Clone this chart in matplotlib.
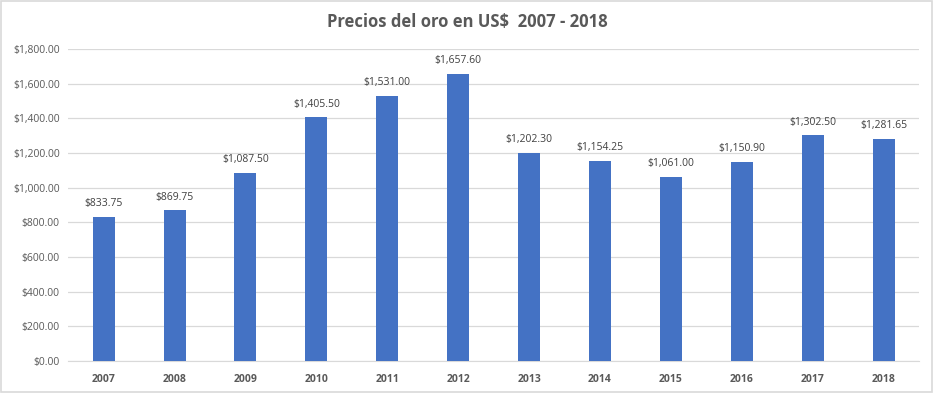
import matplotlib.pyplot as plt
from matplotlib.ticker import FuncFormatter

# datos
anios = ['2007', '2008', '2009', '2010', '2011', '2012',
         '2013', '2014', '2015', '2016', '2017', '2018']
precios = [833.75, 869.75, 1087.50, 1405.50, 1531.00, 1657.60,
           1202.30, 1154.25, 1061.00, 1150.90, 1302.50, 1281.65]

gris = '#595959'
plt.rcParams['font.family'] = ['Open Sans', 'DejaVu Sans']

fig = plt.figure(figsize=(9.34, 3.93), dpi=100)
ax = fig.add_axes([0.073, 0.0814, 0.911, 0.7936])

x = range(len(anios))
barras = ax.bar(x, precios, width=0.31, color='#4472C4', zorder=3)

# etiquetas sobre las barras
for xi, v in zip(x, precios):
    ax.text(xi, v + 45, '${:,.2f}'.format(v), ha='center', va='bottom',
            fontsize=7.5, color='#404040')

ax.set_xlim(-0.5, len(anios) - 0.5)
ax.set_ylim(0, 1800)
ax.set_yticks(range(0, 1801, 200))
ax.yaxis.set_major_formatter(FuncFormatter(lambda v, p: '${:,.2f}'.format(v)))
ax.set_xticks(list(x))
ax.set_xticklabels(anios, fontweight='bold')
ax.grid(axis='y', color='#D9D9D9', linewidth=0.9, zorder=0)
for s in ['top', 'right', 'left']:
    ax.spines[s].set_visible(False)
ax.spines['bottom'].set_color('#D9D9D9')
ax.tick_params(axis='both', length=0, labelsize=7.5, colors=gris, pad=6)
ax.tick_params(axis='x', pad=9)

fig.text(0.5, 0.945, 'Precios del oro en US$  2007 - 2018', ha='center',
         va='center', fontsize=12, fontweight='bold', color=gris)

# borde del grafico
fig.patches.append(plt.Rectangle((0.001, 0.002), 0.997, 0.995, fill=False,
                                 edgecolor='#D9D9D9', linewidth=1.2,
                                 transform=fig.transFigure))

fig.savefig('out.png', dpi=100)
